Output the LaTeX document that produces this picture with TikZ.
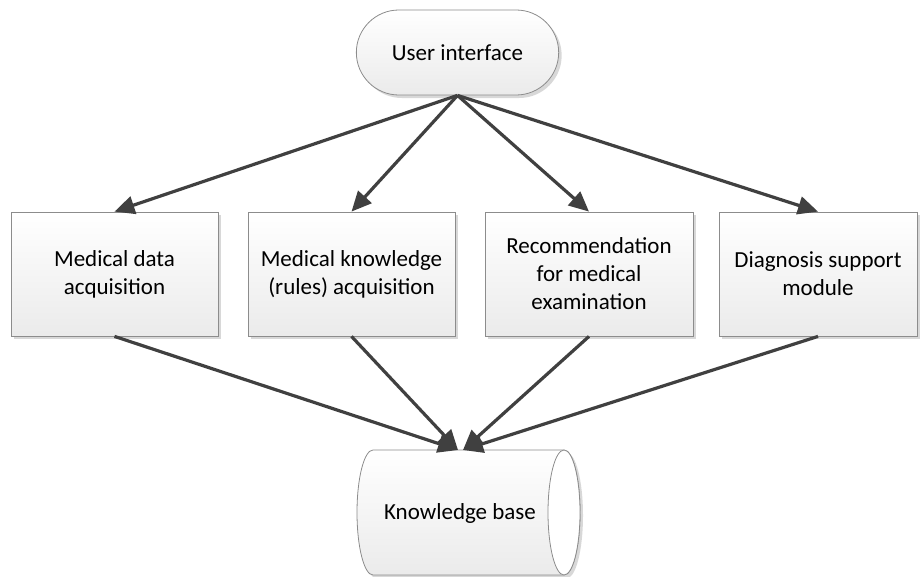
\documentclass[tikz,border=0pt]{standalone}
\usepackage{fontspec}
\setmainfont{Carlito}
\usetikzlibrary{shapes.misc,shadows,arrows.meta}
\definecolor{edge}{HTML}{404040}
\definecolor{rim}{HTML}{8C8C8C}
\tikzset{
  labelfont/.style={font=\fontsize{23}{28}\selectfont},
  softshadow/.style={drop shadow={shadow xshift=3pt, shadow yshift=-3pt, fill=black!30, opacity=.5}},
  module/.style={draw=rim, line width=0.8pt, top color=white, bottom color=black!8,
    align=center, labelfont, inner sep=0pt, minimum height=124pt, softshadow},
  terminal/.style={rounded rectangle, draw=rim, line width=0.8pt, top color=white,
    bottom color=black!8, labelfont, minimum width=209pt, minimum height=85pt, softshadow},
  flow/.style={draw=edge, line width=3.2pt, -{Triangle[length=20pt,width=18pt]}},
}
\begin{document}
\begin{tikzpicture}[x=1pt,y=-1pt]
  \useasboundingbox (0,0) rectangle (920,576);

  % entry point
  \node[terminal] (ui) at (457.5,52.5) {User interface};

  % the four modules
  \node[module, minimum width=207pt] (m1) at (114.5,274) {Medical data\\acquisition};
  \node[module, minimum width=207pt] (m2) at (351.5,274) {Medical knowledge\\(rules) acquisition};
  \node[module, minimum width=208pt] (m3) at (589,274) {Recommendation\\for medical\\examination};
  \node[module, minimum width=198pt] (m4) at (818,274) {Diagnosis support\\module};

  % knowledge base drawn as a horizontal cylinder
  \fill[black!30, opacity=.5, xshift=3pt, yshift=-3pt]
    (373,450) -- (564,450) arc[start angle=90, end angle=-90, x radius=16pt, y radius=62.5pt]
    -- (373,575) arc[start angle=270, end angle=90, x radius=16pt, y radius=62.5pt] -- cycle;
  \path[draw=rim, line width=0.8pt, top color=white, bottom color=black!8]
    (373,450) -- (564,450) arc[start angle=90, end angle=-90, x radius=16pt, y radius=62.5pt]
    -- (373,575) arc[start angle=270, end angle=90, x radius=16pt, y radius=62.5pt] -- cycle;
  \draw[rim, line width=0.8pt, fill=white] (564,512.5) ellipse[x radius=16pt, y radius=62.5pt];
  \node[labelfont] (kb) at (460,513) {Knowledge base};
  \coordinate (kbL) at (458,450);
  \coordinate (kbR) at (463,450);

  % connectors
  \foreach \m in {m1,m2,m3,m4}
    \draw[flow] (ui.south) -- (\m.north);
  \draw[flow] (m1.south) -- (kbL);
  \draw[flow] (m2.south) -- (kbL);
  \draw[flow] (m3.south) -- (kbR);
  \draw[flow] (m4.south) -- (kbR);
\end{tikzpicture}
\end{document}
